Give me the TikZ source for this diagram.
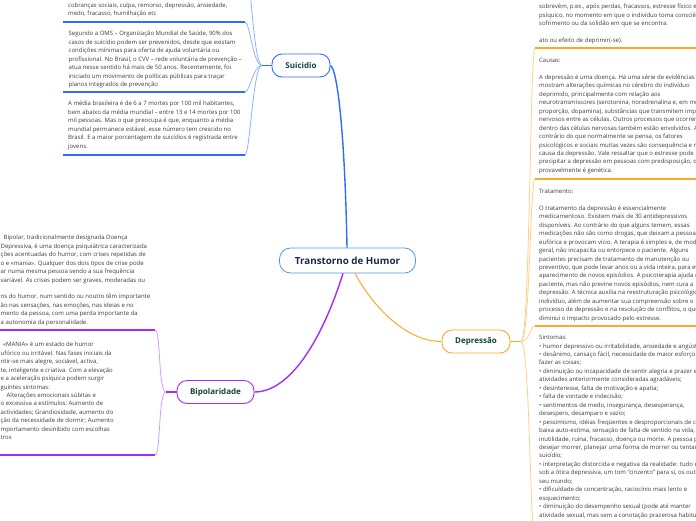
\documentclass[tikz,border=0pt]{standalone}
\usepackage{fontspec}
\setmainfont{Open Sans}
\usepackage{tikz}
\usepackage{xcolor}
\definecolor{rootline}{HTML}{4C9BE6}
\definecolor{roottext}{HTML}{1B2A4A}
\definecolor{topictext}{HTML}{124536}
\definecolor{notetext}{HTML}{3C3C3C}
\definecolor{blueline}{HTML}{2F6BFF}
\definecolor{bluelight}{HTML}{8FB0FF}
\definecolor{purpleline}{HTML}{A52CFF}
\definecolor{purplelight}{HTML}{D49CFF}
\definecolor{orangeline}{HTML}{FFA726}
\definecolor{orangelight}{HTML}{FFCF85}

\begin{document}
\begin{tikzpicture}[x=1pt,y=-1pt]
  \tikzstyle{root node}=[rectangle,rounded corners=11pt,draw=rootline,line width=0.8pt,fill=white,minimum width=136pt,minimum height=25pt,text=roottext,font=\fontsize{9.8}{12}\selectfont\bfseries]
  \tikzstyle{topic node}=[rectangle,rounded corners=10pt,line width=0.9pt,fill=white,minimum height=23pt,inner xsep=0,text=topictext,font=\fontsize{8}{10}\selectfont\bfseries]
  \tikzstyle{note}=[anchor=north west,inner sep=0,align=left,text=notetext,font=\fontsize{6}{8.45}\selectfont]
  \tikzstyle{under}=[line width=1.5pt]
  \tikzstyle{link}=[line width=0.8pt]
  \useasboundingbox (0,0) rectangle (696,520);
  \clip (0,0) rectangle (696,520);

  % main topics
  \node(root)[root node] at (347.5,260.5){Transtorno de Humor};
  \node(sui)[topic node,draw=blueline,minimum width=58pt] at (301,65.5){Suicidio};
  \node(bip)[topic node,draw=purpleline,minimum width=77pt] at (215.5,392){Bipolaridade};
  \node(dep)[topic node,draw=orangeline,minimum width=68pt] at (476,341.5){Depressão};

  \draw[blueline,line width=1.4pt] ([xshift=-0.5pt]root.north) .. controls (345,140) and (338,70) .. (sui.east);
  \draw[purpleline,line width=1.4pt] ([xshift=-4.5pt]root.south) .. controls (322,340) and (290,392) .. (bip.east);
  \draw[orangeline,line width=1pt] ([xshift=7.5pt]root.south) .. controls (372,305) and (405,341.5) .. (dep.west);

  % Suicidio
  \coordinate(j1) at (262,65.5);
  \coordinate(s0) at (245,-40);
  \coordinate(s1) at (245,22);
  \coordinate(s2) at (245,92);
  \coordinate(s3) at (245,155);
  \draw[blueline,line width=1.2pt] (sui.west) -- (j1);
  \foreach \s in {s0,s1,s2,s3}
    \draw[link,bluelight] (j1) .. controls ([xshift=-9pt]j1) and ([xshift=5pt]\s) .. (\s);
  \draw[under,blueline] (s1) -- (63,22);
  \draw[under,blueline] (s2) -- (63,92);
  \draw[under,blueline] (s3) -- (63,155);
  \node(sa)[note] at (68,2.7){cobranças sociais, culpa, remorso, depressão, ansiedade,\\medo, fracasso, humilhação etc};
  \node(sb)[note] at (68.5,31){Segundo a OMS – Organização Mundial de Saúde, 90\% dos\\casos de suicídio podem ser prevenidos, desde que existam\\condições mínimas para oferta de ajuda voluntária ou\\profissional. No Brasil, o CVV – rede voluntária de prevenção –\\atua nesse sentido há mais de 50 anos. Recentemente, foi\\iniciado um movimento de políticas públicas para traçar\\planos integrados de prevenção};
  \node(sc)[note] at (68,101){A média brasileira é de 6 a 7 mortes por 100 mil habitantes,\\bem abaixo da média mundial – entre 13 e 14 mortes por 100\\mil pessoas. Mas o que preocupa é que, enquanto a média\\mundial permanece estável, esse número tem crescido no\\Brasil. E a maior porcentagem de suicídios é registrada entre\\jovens.};

  % Bipolaridade
  \coordinate(j2) at (166,392);
  \coordinate(b1) at (155,330);
  \coordinate(b2) at (155,455);
  \draw[purpleline,line width=1.2pt] (bip.west) -- (j2);
  \foreach \b in {b1,b2}
    \draw[link,purplelight] (j2) .. controls ([xshift=-8pt]j2) and ([xshift=6pt]\b) .. (\b);
  \draw[under,purpleline] (b1) -- (-5,330);
  \draw[under,purpleline] (b2) -- (-5,455);
  \node(ba)[note] at (0.5,235){\hspace*{3pt}Bipolar, tradicionalmente designada Doença\\Depressiva, é uma doença psiquiátrica caracterizada\\ções acentuadas do humor, com crises repetidas de\\o e «mania». Qualquer dos dois tipos de crise pode\\ar numa mesma pessoa sendo a sua frequência\\variável. As crises podem ser graves, moderadas ou\\[8.45pt]ns do humor, num sentido ou noutro têm importante\\ão nas sensações, nas emoções, nas ideias e no\\mento da pessoa, com uma perda importante da\\a autonomia da personalidade.};
  \node(bb)[note] at (0.5,342){\hspace*{2.5pt}«MANIA» é um estado de humor\\ufórico ou irritável. Nas fases iniciais da\\ntir-se mais alegre, sociável, activa,\\te, inteligente e criativa. Com a elevação\\e a aceleração psíquica podem surgir\\guintes sintomas:\\\hspace*{6pt}Alterações emocionais súbitas e\\o excessiva a estímulos; Aumento de\\actividades; Grandiosidade, aumento do\\ção da necessidade de dormir; Aumento\\mportamento desinibido com escolhas\\tros};

  % Depressao
  \coordinate(j3) at (521,341.5);
  \coordinate(d1) at (535,48);
  \coordinate(d2) at (535,179);
  \coordinate(d3) at (535,326);
  \coordinate(d4) at (535,540);
  \draw[orangeline,line width=1.2pt] (dep.east) -- (j3);
  \foreach \d in {d1,d2,d3,d4}
    \draw[link,orangelight] (j3) .. controls ([xshift=9pt]j3) and ([xshift=-5pt]\d) .. (\d);
  \draw[under,orangeline] (d1) -- (700,48);
  \draw[under,orangeline] (d2) -- (700,179);
  \draw[under,orangeline] (d3) -- (700,326);
  \node(da)[note] at (539,4){sobrevém, p.ex., após perdas, fracassos, estresse físico e\\psíquico, no momento em que o indivíduo toma consciência do\\sofrimento ou da solidão em que se encontra.\\[8.45pt]ato ou efeito de deprimir(-se).};
  \node(db)[note] at (539,58){Causas:\\[8.45pt]A depressão é uma doença. Há uma série de evidências que\\mostram alterações químicas no cérebro do indivíduo\\deprimido, principalmente com relação aos\\neurotransmissores (serotonina, noradrenalina e, em menor\\proporção, dopamina), substâncias que transmitem impulsos\\nervosos entre as células. Outros processos que ocorrem\\dentro das células nervosas também estão envolvidos. Ao\\contrário do que normalmente se pensa, os fatores\\psicológicos e sociais muitas vezes são consequência e não\\causa da depressão. Vale ressaltar que o estresse pode\\precipitar a depressão em pessoas com predisposição, que\\provavelmente é genética.};
  \node(dc)[note] at (539,189){Tratamento:\\[8.45pt]O tratamento da depressão é essencialmente\\medicamentoso. Existem mais de 30 antidepressivos\\disponíveis. Ao contrário do que alguns temem, essas\\medicações não são como drogas, que deixam a pessoa\\eufórica e provocam vício. A terapia é simples e, de modo\\geral, não incapacita ou entorpece o paciente. Alguns\\pacientes precisam de tratamento de manutenção ou\\preventivo, que pode levar anos ou a vida inteira, para evitar o\\aparecimento de novos episódios. A psicoterapia ajuda o\\paciente, mas não previne novos episódios, nem cura a\\depressão. A técnica auxilia na reestruturação psicológica do\\indivíduo, além de aumentar sua compreensão sobre o\\processo de depressão e na resolução de conflitos, o que\\diminui o impacto provocado pelo estresse.};
  \node(dd)[note] at (539,335){Sintomas:\\• humor depressivo ou irritabilidade, ansiedade e angústia;\\• desânimo, cansaço fácil, necessidade de maior esforço para\\fazer as coisas;\\• diminuição ou incapacidade de sentir alegria e prazer em\\atividades anteriormente consideradas agradáveis;\\• desinteresse, falta de motivação e apatia;\\• falta de vontade e indecisão;\\• sentimentos de medo, insegurança, desesperança,\\desespero, desamparo e vazio;\\• pessimismo, idéias freqüentes e desproporcionais de culpa,\\baixa auto-estima, sensação de falta de sentido na vida,\\inutilidade, ruína, fracasso, doença ou morte. A pessoa pode\\desejar morrer, planejar uma forma de morrer ou tentar\\suicídio;\\• interpretação distorcida e negativa da realidade: tudo é visto\\sob a ótica depressiva, um tom “cinzento” para si, os outros e\\seu mundo;\\• dificuldade de concentração, raciocínio mais lento e\\esquecimento;\\• diminuição do desempenho sexual (pode até manter\\atividade sexual, mas sem a conotação prazerosa habitual)};
\end{tikzpicture}
\end{document}
